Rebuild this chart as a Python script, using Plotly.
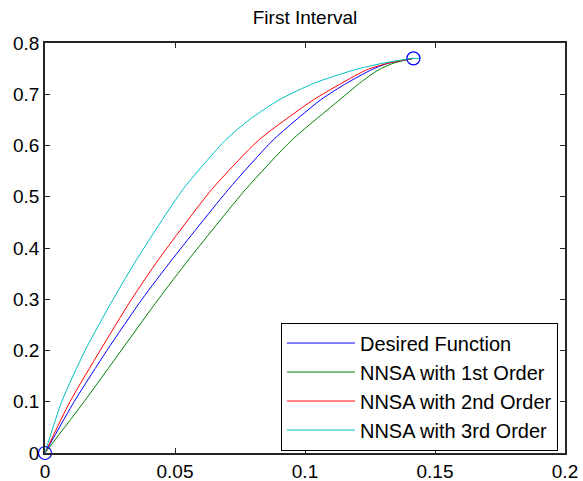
import plotly.graph_objects as go

# ---- data ----
y_desired = [0, 0.1, 0.2, 0.3, 0.377, 0.514, 0.611, 0.689, 0.7216, 0.7476, 0.7606, 0.770]
x_desired = [0, 0.0112, 0.0238, 0.0373, 0.0488, 0.0705, 0.0878, 0.1060, 0.1160, 0.1255, 0.1320, 0.1417]

y_first = [0, 0.1, 0.2, 0.3, 0.377, 0.514, 0.611, 0.689, 0.7216, 0.7476, 0.7606, 0.770]
x_first = [0, 0.0150, 0.0293, 0.0436, 0.0552, 0.0771, 0.0950, 0.1133, 0.1210, 0.1283, 0.1340, 0.1417]

y_second = [0, 0.1, 0.2, 0.3, 0.377, 0.514, 0.611, 0.689, 0.7216, 0.7476, 0.7606, 0.770]
x_second = [0, 0.0096, 0.0212, 0.0333, 0.0436, 0.0641, 0.0823, 0.1032, 0.1141, 0.1237, 0.1320, 0.1417]

y_third = [0, 0.1, 0.2, 0.3, 0.377, 0.514, 0.611, 0.650, 0.689, 0.7216, 0.7476, 0.7606, 0.770, 0.770]
x_third = [0, 0.0064, 0.0154, 0.0262, 0.0352, 0.0530, 0.0695, 0.0785, 0.0900, 0.1035, 0.1190, 0.1300, 0.1417, 0.1445]

marker_x = [0, 0.1417]
marker_y = [0, 0.770]

series_names = ["Desired Function", "NNSA with 1st Order", "NNSA with 2nd Order", "NNSA with 3rd Order"]
series_colors = ["#0000ff", "#008000", "#ff0000", "#00bfbf"]

x_ticks = [0, 0.05, 0.1, 0.15, 0.2]
x_ticktext = ["0", "0.05", "0.1", "0.15", "0.2"]
y_ticks = [0, 0.1, 0.2, 0.3, 0.4, 0.5, 0.6, 0.7, 0.8]
y_ticktext = ["0", "0.1", "0.2", "0.3", "0.4", "0.5", "0.6", "0.7", "0.8"]

FONT = "Liberation Sans, Arial, Helvetica, sans-serif"

fig = go.Figure()
data = [(x_desired, y_desired), (x_first, y_first), (x_second, y_second), (x_third, y_third)]
for i, ((xs, ys), name, col) in enumerate(zip(data, series_names, series_colors)):
    fig.add_trace(go.Scatter(
        x=xs, y=ys, mode="lines", name=name, legendgroup="g%d" % i,
        line=dict(color=col, width=1, shape="spline", smoothing=0.6),
    ))

fig.add_trace(go.Scatter(
    x=marker_x, y=marker_y, mode="markers", showlegend=False,
    marker=dict(symbol="circle-open", size=13, color="#0000ff", line=dict(width=1.2, color="#0000ff")),
    cliponaxis=False,
))

axis_common = dict(
    showline=True, linecolor="#262626", linewidth=1.5, mirror="ticks",
    ticks="inside", ticklen=5, tickcolor="#262626", tickwidth=1,
    showgrid=False, zeroline=False, automargin=False,
    tickfont=dict(family=FONT, size=19, color="#000000"),
)

fig.update_layout(
    width=583, height=481,
    margin=dict(l=45, r=18, t=43, b=28),
    paper_bgcolor="white", plot_bgcolor="white",
    font=dict(family=FONT, size=19, color="#000000"),
    title=dict(text="First Interval", x=0.5, xref="paper", y=1 - 17 / 481, yanchor="middle",
               font=dict(family=FONT, size=19, color="#000000")),
    xaxis=dict(range=[0, 0.2], tickvals=x_ticks, ticktext=x_ticktext, **axis_common),
    yaxis=dict(range=[0, 0.8], tickvals=y_ticks, ticktext=y_ticktext, **axis_common),
    legend=dict(
        x=0.9865, xanchor="right", y=0.006, yanchor="bottom",
        bgcolor="white", bordercolor="#000000", borderwidth=1,
        font=dict(family=FONT, size=20, color="#000000"),
        itemwidth=68, traceorder="grouped", tracegroupgap=0,
    ),
    showlegend=True,
)

fig.write_html("out.html")
